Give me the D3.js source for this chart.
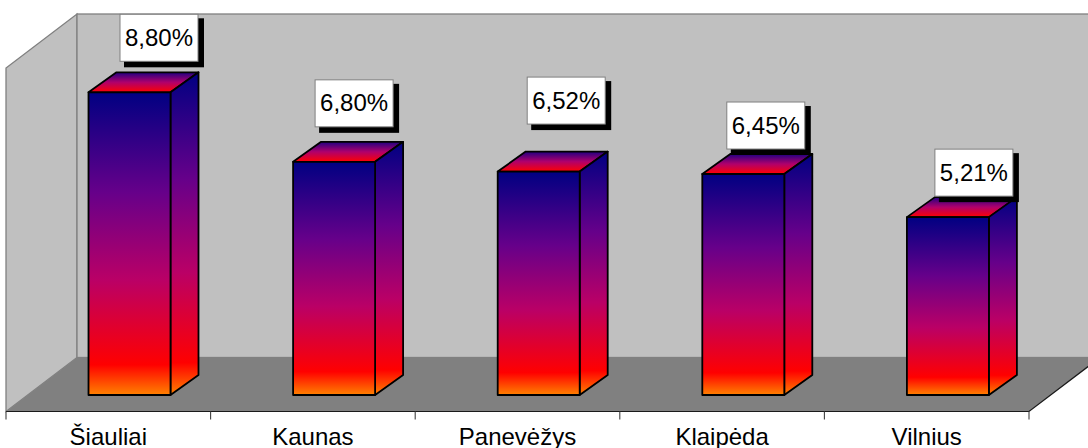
<!DOCTYPE html>
<html>
<head>
<meta charset="utf-8">
<script src="https://cdn.jsdelivr.net/npm/d3@7"></script>
<style>
html,body{margin:0;padding:0;background:#fff;overflow:hidden}
svg{display:block}
text{font-family:"Liberation Sans",Arial,sans-serif;fill:#000}
</style>
</head>
<body>
<svg id="c" width="1088" height="448"></svg>
<script>
const categories = ["Šiauliai","Kaunas","Panevėžys","Klaipėda","Vilnius"];
const values = [8.80,6.80,6.52,6.45,5.21];
const valueLabels = ["8,80%","6,80%","6,52%","6,45%","5,21%"];

// layout
const labelDx = [31.5,22,29.5,24.5,28];
const labelGap = [31,35,47.5,25,21];
const gradientStops = [[0,"#000082"],[0.33,"#66008a"],[0.62,"#ba0066"],[0.90,"#ff0000"],[1,"#ff8200"]];
const floorY = 411.5, leftX = 6, rightX = 1029, depthX = 71, depthY = 54, wallTop = 14;
const barBase = 395, barDX = 28, barDY = 20, barW = 82, barInset = 82.5;

const svg = d3.select("#c");
const x = d3.scaleBand().domain(categories).range([leftX,rightX]);
const y = d3.scaleLinear().domain([0,8.8]).range([398.3,92.3]);
const line = d3.line();

const defs = svg.append("defs");
const g = defs.append("linearGradient").attr("id","g").attr("x1",0).attr("y1",0).attr("x2",0).attr("y2",1);
gradientStops.forEach(s=>g.append("stop").attr("offset",s[0]).attr("stop-color",s[1]));
const gt = defs.append("linearGradient").attr("id","gTop").attr("x1",0).attr("y1",1).attr("x2",0).attr("y2",0);
[[0,"#ff0000"],[0.5,"#b0006c"],[1,"#200082"]].forEach(s=>gt.append("stop").attr("offset",s[0]).attr("stop-color",s[1]));

// walls and floor
svg.append("path").attr("d",line([[leftX,floorY],[leftX,wallTop+depthY],[leftX+depthX,wallTop],[leftX+depthX,floorY-depthY]])+"Z")
  .attr("fill","#c0c0c0").attr("stroke","#808080").attr("stroke-width",1.3);
svg.append("rect").attr("x",leftX+depthX).attr("y",wallTop).attr("width",1100).attr("height",floorY-depthY-wallTop)
  .attr("fill","#c0c0c0").attr("stroke","#808080").attr("stroke-width",1.3);
svg.append("path").attr("d",line([[leftX,floorY],[leftX+depthX,floorY-depthY],[rightX+depthX,floorY-depthY],[rightX,floorY]])+"Z")
  .attr("fill","#808080");
svg.append("path").attr("d",line([[leftX,floorY],[rightX,floorY],[rightX+depthX,floorY-depthY]]))
  .attr("fill","none").attr("stroke","#1a1a1a").attr("stroke-width",1.2);

// axis
const axis = d3.axisBottom(x).tickSize(0);
const ag = svg.append("g").attr("transform",`translate(0,${floorY})`).call(axis);
ag.select(".domain").remove();
ag.selectAll("text").attr("font-size",24).attr("dy",0).attr("y",33.5).style("font-family",'"Liberation Sans",Arial,sans-serif');
const edges = d3.range(categories.length+1).map(i=>leftX+i*x.step());
svg.selectAll("line.t").data(edges).join("line").attr("class","t")
  .attr("x1",d=>d).attr("x2",d=>d).attr("y1",floorY).attr("y2",floorY+8)
  .attr("stroke","#404040").attr("stroke-width",1.1);

// bars
const bars = svg.selectAll("g.bar").data(values).join("g").attr("class","bar");
const barX = (i)=>x(categories[i])+barInset;
const st = {stroke:"#000","stroke-width":1.8,"stroke-linejoin":"round"};
function applyStyle(s){ Object.entries(st).forEach(([k,v])=>s.attr(k,v)); }
bars.append("path").attr("d",(d,i)=>{const a=barX(i),t=y(d);
  return line([[a,t],[a+barDX,t-barDY],[a+barW+barDX,t-barDY],[a+barW,t]])+"Z";}).call(applyStyle)
  .attr("fill","url(#gTop)");
bars.append("path").attr("d",(d,i)=>{const a=barX(i)+barW,t=y(d);
  return line([[a,t],[a+barDX,t-barDY],[a+barDX,barBase-barDY],[a,barBase]])+"Z";}).call(applyStyle)
  .attr("fill","url(#g)");
bars.append("rect").attr("x",(d,i)=>barX(i)).attr("y",d=>y(d)).attr("width",barW).attr("height",d=>barBase-y(d)).call(applyStyle)
  .attr("fill","url(#g)");

// value labels
const bw = 78, bh = 47;
const lab = svg.selectAll("g.lab").data(values).join("g").attr("class","lab")
  .attr("transform",(d,i)=>`translate(${barX(i)+labelDx[i]},${y(d)-labelGap[i]-bh})`);
lab.append("rect").attr("x",4).attr("y",4).attr("width",bw+2).attr("height",bh+2).attr("fill","#000");
lab.append("rect").attr("width",bw).attr("height",bh).attr("fill","#fff").attr("stroke","#808080").attr("stroke-width",1);
lab.append("text").attr("x",bw/2).attr("y",bh/2+8).attr("text-anchor","middle").attr("font-size",24).text((d,i)=>valueLabels[i]);
</script>
</body>
</html>
